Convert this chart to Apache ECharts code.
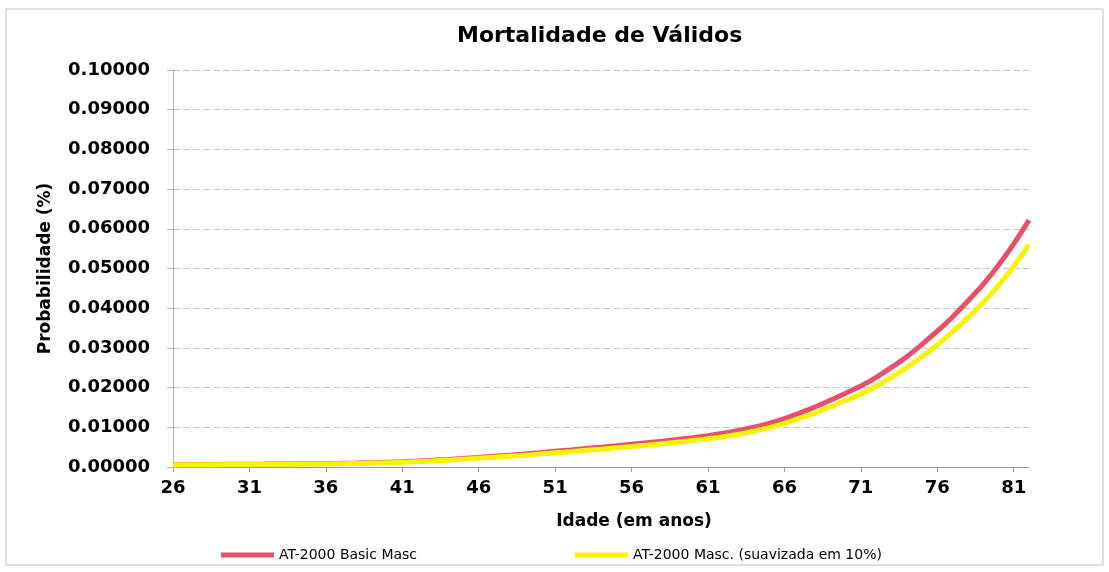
<!DOCTYPE html>
<html>
<head>
<meta charset="utf-8">
<script src="https://cdn.jsdelivr.net/npm/echarts@6/dist/echarts.min.js"></script>
<style>
  html, body { margin: 0; padding: 0; background: #fff; }
  #chart { width: 1109px; height: 572px; }
</style>
</head>
<body>
<div id="chart"></div>
<script>
// idades 26..82
var idades = [];
for (var a = 26; a <= 82; a++) idades.push(String(a));

// AT-2000 Basic Masc
var basicMasc = [
  0.00059, 0.00061, 0.00063, 0.00066, 0.00068, 0.00071, 0.00073, 0.00076, 0.00079, 0.00083,
  0.00087, 0.00093, 0.00100, 0.00109, 0.00121, 0.00134, 0.00151, 0.00170, 0.00192, 0.00216,
  0.00242, 0.00271, 0.00298, 0.00330, 0.00362, 0.00396, 0.00430, 0.00465, 0.00500, 0.00536,
  0.00573, 0.00612, 0.00652, 0.00695, 0.00740, 0.00790, 0.00848, 0.00918, 0.01000, 0.01100,
  0.01220, 0.01360, 0.01510, 0.01680, 0.01860, 0.02040, 0.02260, 0.02510, 0.02780, 0.03090,
  0.03420, 0.03780, 0.04180, 0.04600, 0.05080, 0.05620, 0.06220
];

// AT-2000 Masc. suavizada em 10%
var suavizada = [
  0.00053, 0.00055, 0.00057, 0.00059, 0.00061, 0.00064, 0.00066, 0.00068, 0.00071, 0.00075,
  0.00078, 0.00084, 0.00090, 0.00098, 0.00109, 0.00121, 0.00136, 0.00153, 0.00173, 0.00194,
  0.00218, 0.00244, 0.00268, 0.00297, 0.00326, 0.00356, 0.00387, 0.00419, 0.00450, 0.00482,
  0.00516, 0.00551, 0.00587, 0.00626, 0.00666, 0.00711, 0.00763, 0.00826, 0.00900, 0.00990,
  0.01098, 0.01224, 0.01359, 0.01512, 0.01674, 0.01836, 0.02034, 0.02259, 0.02502, 0.02781,
  0.03078, 0.03402, 0.03762, 0.04140, 0.04572, 0.05058, 0.05598
];

var nomes = ['AT-2000 Basic Masc', 'AT-2000 Masc. (suavizada em 10%)'];
var fonte = 'DejaVu Sans';

var myChart = echarts.init(document.getElementById('chart'));
var option = {
  backgroundColor: '#fff',
  animation: false,
  title: {
    text: 'Mortalidade de Válidos',
    left: 452,
    top: 20,
    textStyle: { fontFamily: fonte, fontWeight: 'bold', fontSize: 22, color: '#000' }
  },
  graphic: [{
    type: 'rect',
    shape: { x: 6, y: 9, width: 1097, height: 556 },
    style: { fill: 'none', stroke: '#c0c0c0', lineWidth: 1 },
    silent: true
  }],
  legend: [
    {
      data: [nomes[0]],
      left: 216, top: 543,
      icon: 'rect', itemWidth: 53, itemHeight: 5,
      textStyle: { fontFamily: fonte, fontSize: 14, color: '#000' }
    },
    {
      data: [nomes[1]],
      left: 570, top: 543,
      icon: 'rect', itemWidth: 53, itemHeight: 5,
      textStyle: { fontFamily: fonte, fontSize: 14, color: '#000' }
    }
  ],
  grid: { left: 173, right: 80, top: 70, bottom: 105 },
  xAxis: {
    type: 'category',
    data: idades,
    boundaryGap: false,
    name: 'Idade (em anos)',
    nameLocation: 'middle',
    nameGap: 46,
    nameTextStyle: { fontFamily: fonte, fontWeight: 'bold', fontSize: 17, color: '#000', padding: [0, 0, 0, 66] },
    axisLine: { lineStyle: { color: '#9a9aa6', width: 1 } },
    axisTick: { interval: 4, length: 5, lineStyle: { color: '#9a9aa6' } },
    axisLabel: { interval: 4, margin: 12, fontFamily: fonte, fontWeight: 'bold', fontSize: 18, color: '#000' },
    splitLine: { show: false }
  },
  yAxis: {
    type: 'value',
    min: 0,
    max: 0.1,
    interval: 0.01,
    name: 'Probabilidade (%)',
    nameLocation: 'middle',
    nameGap: 119,
    nameRotate: 90,
    nameTextStyle: { fontFamily: fonte, fontWeight: 'bold', fontSize: 17, color: '#000' },
    axisLine: { show: true, lineStyle: { color: '#b0b0b8', width: 1 } },
    axisTick: { show: true, length: 6, lineStyle: { color: '#b0b0b8' } },
    axisLabel: {
      margin: 23,
      fontFamily: fonte, fontWeight: 'bold', fontSize: 18, color: '#000',
      formatter: function (v) { return v.toFixed(5); }
    },
    splitLine: { lineStyle: { color: '#c6c6d0', width: 1, type: [7, 3] } }
  },
  series: [
    {
      name: nomes[0],
      type: 'line',
      data: basicMasc,
      showSymbol: false,
      smooth: 0.3,
      color: '#e8506a',
      lineStyle: { width: 5, color: '#e8506a' }
    },
    {
      name: nomes[1],
      type: 'line',
      data: suavizada,
      showSymbol: false,
      smooth: 0.3,
      color: '#f7f206',
      lineStyle: { width: 5, color: '#f7f206' }
    }
  ]
};
myChart.setOption(option);
</script>
</body>
</html>
